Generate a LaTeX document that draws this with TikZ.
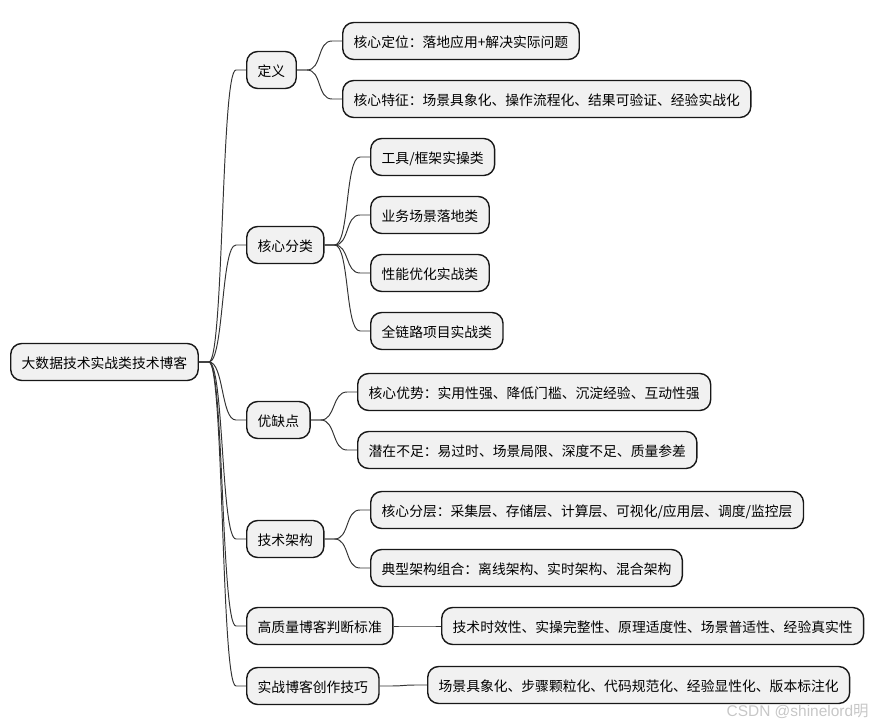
\documentclass[tikz,border=0pt]{standalone}
\usepackage{fontspec}
\newfontfamily\cjk{Noto Sans CJK SC}
\newfontfamily\markfont{Liberation Sans}
\definecolor{boxfill}{HTML}{F1F1F1}
\definecolor{boxline}{HTML}{181818}
\definecolor{wire}{HTML}{333333}
\tikzset{
  topic/.style={draw=boxline, fill=boxfill, line width=0.8pt, rounded corners=0.22cm,
    anchor=west, minimum height=0.74cm, inner xsep=0.22cm, inner ysep=0pt,
    text height=0.85em, text depth=0.15em, font=\cjk\fontsize{7.85}{9}\selectfont},
  branch/.style={draw=wire, line width=0.55pt,
    to path={-- ++(10,0) .. controls +(15,0) and +(-15,0) .. ([xshift=-0.2cm]\tikztotarget) -- (\tikztotarget)}}
}
\begin{document}
\begin{tikzpicture}[x=0.02cm, y=-0.02cm]
    \useasboundingbox (0,0) rectangle (876,726);
    % root
    \node[topic] (root) at (10,362) {大数据技术实战类技术博客};
    % first level
    \node[topic] (def)   at (246,70)  {定义};
    \node[topic] (kind)  at (246,245) {核心分类};
    \node[topic] (pros)  at (246,420) {优缺点};
    \node[topic] (arch)  at (246,539) {技术架构};
    \node[topic] (crit)  at (246,626) {高质量博客判断标准};
    \node[topic] (tips)  at (246,686) {实战博客创作技巧};
    % second level
    \node[topic] (def1)  at (342,41)  {核心定位：落地应用+解决实际问题};
    \node[topic] (def2)  at (342,99)  {核心特征：场景具象化、操作流程化、结果可验证、经验实战化};
    \node[topic] (kind1) at (370,157) {工具/框架实操类};
    \node[topic] (kind2) at (370,215) {业务场景落地类};
    \node[topic] (kind3) at (370,273) {性能优化实战类};
    \node[topic] (kind4) at (370,331) {全链路项目实战类};
    \node[topic] (pros1) at (357,392) {核心优势：实用性强、降低门槛、沉淀经验、互动性强};
    \node[topic] (pros2) at (357,450) {潜在不足：易过时、场景局限、深度不足、质量参差};
    \node[topic] (arch1) at (370,510) {核心分层：采集层、存储层、计算层、可视化/应用层、调度/监控层};
    \node[topic] (arch2) at (370,568) {典型架构组合：离线架构、实时架构、混合架构};
    \node[topic] (crit1) at (441,626) {技术时效性、实操完整性、原理适度性、场景普适性、经验真实性};
    \node[topic] (tips1) at (427,685) {场景具象化、步骤颗粒化、代码规范化、经验显性化、版本标注化};
    % connectors
    \foreach \kid in {def, kind, pros, arch, crit, tips}
        \draw[branch] (root.east) to (\kid.west);
    \foreach \kid in {def1, def2}
        \draw[branch] (def.east) to (\kid.west);
    \foreach \kid in {kind1, kind2, kind3, kind4}
        \draw[branch] (kind.east) to (\kid.west);
    \foreach \kid in {pros1, pros2}
        \draw[branch] (pros.east) to (\kid.west);
    \foreach \kid in {arch1, arch2}
        \draw[branch] (arch.east) to (\kid.west);
    \draw[branch] (crit.east) to (crit1.west);
    \draw[branch] (tips.east) to (tips1.west);
    % watermark
    \node[anchor=east, inner sep=0pt, text=black!22, font=\markfont\fontsize{8.8}{10}\selectfont] (mark) at (869,711) {CSDN @shinelord{\cjk 明}};
\end{tikzpicture}
\end{document}
